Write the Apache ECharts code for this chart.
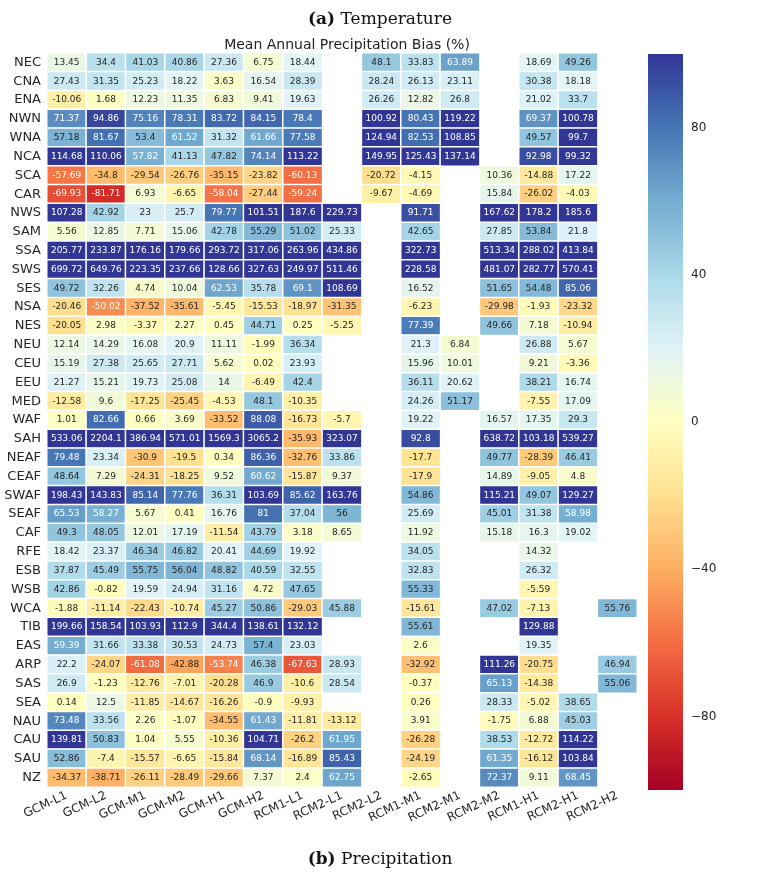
<!DOCTYPE html>
<html>
<head>
<meta charset="utf-8">
<script src="https://cdn.jsdelivr.net/npm/echarts@6/dist/echarts.min.js"></script>
<style>
  html, body { margin: 0; padding: 0; background: #ffffff; }
  #chart { width: 760px; height: 875px; }
</style>
</head>
<body>
<div id="chart"></div>
<script>
// Scenario columns (x axis)
const scenarios = ['GCM-L1', 'GCM-L2', 'GCM-M1', 'GCM-M2', 'GCM-H1', 'GCM-H2',
  'RCM1-L1', 'RCM2-L1', 'RCM2-L2', 'RCM1-M1', 'RCM2-M1', 'RCM2-M2',
  'RCM1-H1', 'RCM2-H1', 'RCM2-H2'];

// Region rows (y axis, top to bottom)
const regions = ['NEC', 'CNA', 'ENA', 'NWN', 'WNA', 'NCA', 'SCA', 'CAR', 'NWS', 'SAM',
  'SSA', 'SWS', 'SES', 'NSA', 'NES', 'NEU', 'CEU', 'EEU', 'MED', 'WAF', 'SAH', 'NEAF',
  'CEAF', 'SWAF', 'SEAF', 'CAF', 'RFE', 'ESB', 'WSB', 'WCA', 'TIB', 'EAS', 'ARP', 'SAS',
  'SEA', 'NAU', 'CAU', 'SAU', 'NZ'];

// Mean annual precipitation bias (%) per region, one value per scenario (null = not available)
const NEC  = [13.45, 34.4, 41.03, 40.86, 27.36, 6.75, 18.44, null, 48.1, 33.83, 63.89, null, 18.69, 49.26, null];
const CNA  = [27.43, 31.35, 25.23, 18.22, 3.63, 16.54, 28.39, null, 28.24, 26.13, 23.11, null, 30.38, 18.18, null];
const ENA  = [-10.06, 1.68, 12.23, 11.35, 6.83, 9.41, 19.63, null, 26.26, 12.82, 26.8, null, 21.02, 33.7, null];
const NWN  = [71.37, 94.86, 75.16, 78.31, 83.72, 84.15, 78.4, null, 100.92, 80.43, 119.22, null, 69.37, 100.78, null];
const WNA  = [57.18, 81.67, 53.4, 61.52, 31.32, 61.66, 77.58, null, 124.94, 82.53, 108.85, null, 49.57, 99.7, null];
const NCA  = [114.68, 110.06, 57.82, 41.13, 47.82, 74.14, 113.22, null, 149.95, 125.43, 137.14, null, 92.98, 99.32, null];
const SCA  = [-57.69, -34.8, -29.54, -26.76, -35.15, -23.82, -60.13, null, -20.72, -4.15, null, 10.36, -14.88, 17.22, null];
const CAR  = [-69.93, -81.71, 6.93, -6.65, -58.04, -27.44, -59.24, null, -9.67, -4.69, null, 15.84, -26.02, -4.03, null];
const NWS  = [107.28, 42.92, 23, 25.7, 79.77, 101.51, 187.6, 229.73, null, 91.71, null, 167.62, 178.2, 185.6, null];
const SAM  = [5.56, 12.85, 7.71, 15.06, 42.78, 55.29, 51.02, 25.33, null, 42.65, null, 27.85, 53.84, 21.8, null];
const SSA  = [205.77, 233.87, 176.16, 179.66, 293.72, 317.06, 263.96, 434.86, null, 322.73, null, 513.34, 288.02, 413.84, null];
const SWS  = [699.72, 649.76, 223.35, 237.66, 128.66, 327.63, 249.97, 511.46, null, 228.58, null, 481.07, 282.77, 570.41, null];
const SES  = [49.72, 32.26, 4.74, 10.04, 62.53, 35.78, 69.1, 108.69, null, 16.52, null, 51.65, 54.48, 85.06, null];
const NSA  = [-20.46, -50.02, -37.52, -35.61, -5.45, -15.53, -18.97, -31.35, null, -6.23, null, -29.98, -1.93, -23.32, null];
const NES  = [-20.05, 2.98, -3.37, 2.27, 0.45, 44.71, 0.25, -5.25, null, 77.39, null, 49.66, 7.18, -10.94, null];
const NEU  = [12.14, 14.29, 16.08, 20.9, 11.11, -1.99, 36.34, null, null, 21.3, 6.84, null, 26.88, 5.67, null];
const CEU  = [15.19, 27.38, 25.65, 27.71, 5.62, 0.02, 23.93, null, null, 15.96, 10.01, null, 9.21, -3.36, null];
const EEU  = [21.27, 15.21, 19.73, 25.08, 14, -6.49, 42.4, null, null, 36.11, 20.62, null, 38.21, 16.74, null];
const MED  = [-12.58, 9.6, -17.25, -25.45, -4.53, 48.1, -10.35, null, null, 24.26, 51.17, null, -7.55, 17.09, null];
const WAF  = [1.01, 82.66, 0.66, 3.69, -33.52, 88.08, -16.73, -5.7, null, 19.22, null, 16.57, 17.35, 29.3, null];
const SAH  = [533.06, 2204.1, 386.94, 571.01, 1569.3, 3065.2, -35.93, 323.07, null, 92.8, null, 638.72, 103.18, 539.27, null];
const NEAF = [79.48, 23.34, -30.9, -19.5, 0.34, 86.36, -32.76, 33.86, null, -17.7, null, 49.77, -28.39, 46.41, null];
const CEAF = [48.64, 7.29, -24.31, -18.25, 9.52, 60.62, -15.87, 9.37, null, -17.9, null, 14.89, -9.05, 4.8, null];
const SWAF = [198.43, 143.83, 85.14, 77.76, 36.31, 103.69, 85.62, 163.76, null, 54.86, null, 115.21, 49.07, 129.27, null];
const SEAF = [65.53, 58.27, 5.67, 0.41, 16.76, 81, 37.04, 56, null, 25.69, null, 45.01, 31.38, 58.98, null];
const CAF  = [49.3, 48.05, 12.01, 17.19, -11.54, 43.79, 3.18, 8.65, null, 11.92, null, 15.18, 16.3, 19.02, null];
const RFE  = [18.42, 23.37, 46.34, 46.82, 20.41, 44.69, 19.92, null, null, 34.05, null, null, 14.32, null, null];
const ESB  = [37.87, 45.49, 55.75, 56.04, 48.82, 40.59, 32.55, null, null, 32.83, null, null, 26.32, null, null];
const WSB  = [42.86, -0.82, 19.59, 24.94, 31.16, 4.72, 47.65, null, null, 55.33, null, null, -5.59, null, null];
const WCA  = [-1.88, -11.14, -22.43, -10.74, 45.27, 50.86, -29.03, 45.88, null, -15.61, null, 47.02, -7.13, null, 55.76];
const TIB  = [199.66, 158.54, 103.93, 112.9, 344.4, 138.61, 132.12, null, null, 55.61, null, null, 129.88, null, null];
const EAS  = [59.39, 31.66, 33.38, 30.53, 24.73, 57.4, 23.03, null, null, 2.6, null, null, 19.35, null, null];
const ARP  = [22.2, -24.07, -61.08, -42.88, -53.74, 46.38, -67.63, 28.93, null, -32.92, null, 111.26, -20.75, null, 46.94];
const SAS  = [26.9, -1.23, -12.76, -7.01, -20.28, 46.9, -10.6, 28.54, null, -0.37, null, 65.13, -14.38, null, 55.06];
const SEA  = [0.14, 12.5, -11.85, -14.67, -16.26, -0.9, -9.93, null, null, 0.26, null, 28.33, -5.02, 38.65, null];
const NAU  = [73.48, 33.56, 2.26, -1.07, -34.55, 61.43, -11.81, -13.12, null, 3.91, null, -1.75, 6.88, 45.03, null];
const CAU  = [139.81, 50.83, 1.04, 5.55, -10.36, 104.71, -26.2, 61.95, null, -26.28, null, 38.53, -12.72, 114.22, null];
const SAU  = [52.86, -7.4, -15.57, -6.65, -15.84, 68.14, -16.89, 85.43, null, -24.19, null, 61.35, -16.12, 103.84, null];
const NZ   = [-34.37, -38.71, -26.11, -28.49, -29.66, 7.37, 2.4, 62.75, null, -2.65, null, 72.37, 9.11, 68.45, null];

const biasRows = [NEC, CNA, ENA, NWN, WNA, NCA, SCA, CAR, NWS, SAM, SSA, SWS, SES, NSA, NES,
  NEU, CEU, EEU, MED, WAF, SAH, NEAF, CEAF, SWAF, SEAF, CAF, RFE, ESB, WSB, WCA, TIB, EAS,
  ARP, SAS, SEA, NAU, CAU, SAU, NZ];

// Colour scale limits and colour bar ticks
const scaleMin = -100;
const scaleMax = 100;
const colorbarTicks = [-80, -40, 0, 40, 80];

// Diverging red-yellow-blue palette, low to high
const palette = ['#a50026', '#d73027', '#f46d43', '#fdae61', '#fee090', '#ffffbf',
  '#e0f3f8', '#abd9e9', '#74add1', '#4575b4', '#313695'];

function hexToRgb(h) {
  return [parseInt(h.slice(1, 3), 16), parseInt(h.slice(3, 5), 16), parseInt(h.slice(5, 7), 16)];
}
function colorAt(v) {
  const t = Math.max(0, Math.min(1, (v - scaleMin) / (scaleMax - scaleMin)));
  const p = t * (palette.length - 1);
  const i = Math.min(palette.length - 2, Math.floor(p));
  const f = p - i;
  const a = hexToRgb(palette[i]), b = hexToRgb(palette[i + 1]);
  return a.map((c, k) => c + (b[k] - c) * f);
}
// Light text on dark cells, dark text on light cells
function textColorFor(v) {
  const lin = colorAt(v).map(c => {
    c /= 255;
    return c <= 0.03928 ? c / 12.92 : Math.pow((c + 0.055) / 1.055, 2.4);
  });
  const lum = 0.2126 * lin[0] + 0.7152 * lin[1] + 0.0722 * lin[2];
  return lum > 0.408 ? '#262626' : '#ffffff';
}

const cells = [];
biasRows.forEach((row, yi) => {
  row.forEach((v, xi) => {
    if (v === null) return;
    const clamped = Math.max(scaleMin, Math.min(scaleMax, v));
    cells.push({ value: [xi, yi, v, clamped], label: { color: textColorFor(v) } });
  });
});

const fmtMinus = v => (v < 0 ? '\u2212' + Math.abs(v) : String(v));

const chart = echarts.init(document.getElementById('chart'), null, { renderer: 'canvas' });

chart.setOption({
  backgroundColor: '#ffffff',
  animation: false,
  title: [
    {
      text: '{b|(a)} Temperature',
      left: 'center', top: 6,
      textStyle: {
        fontFamily: 'DejaVu Serif', fontSize: 17, fontWeight: 'normal', color: '#111',
        rich: { b: { fontFamily: 'DejaVu Serif', fontSize: 17, fontWeight: 'bold', color: '#111' } }
      }
    },
    {
      text: 'Mean Annual Precipitation Bias (%)',
      left: 342, top: 33, textAlign: 'center',
      textStyle: { fontFamily: 'DejaVu Sans', fontSize: 14, fontWeight: 'normal', color: '#222' }
    },
    {
      text: '{b|(b)} Precipitation',
      left: 'center', top: 846,
      textStyle: {
        fontFamily: 'DejaVu Serif', fontSize: 17, fontWeight: 'normal', color: '#111',
        rich: { b: { fontFamily: 'DejaVu Serif', fontSize: 17, fontWeight: 'bold', color: '#111' } }
      }
    }
  ],
  grid: [
    { left: 47, top: 53, width: 590, height: 734 },
    { left: 648, top: 54, width: 35, height: 736 }
  ],
  xAxis: [
    {
      type: 'category', gridIndex: 0, data: scenarios, position: 'bottom',
      axisLine: { show: false }, axisTick: { show: false }, splitLine: { show: false },
      axisLabel: {
        interval: 0, rotate: 25, margin: 8, fontFamily: 'DejaVu Sans', fontSize: 12, color: '#262626'
      }
    },
    { type: 'value', gridIndex: 1, min: 0, max: 1, show: false }
  ],
  yAxis: [
    {
      type: 'category', gridIndex: 0, data: regions, inverse: true,
      axisLine: { show: false }, axisTick: { show: false }, splitLine: { show: false },
      axisLabel: { margin: 6, fontFamily: 'DejaVu Sans', fontSize: 13, color: '#262626' }
    },
    {
      type: 'value', gridIndex: 1, min: scaleMin, max: scaleMax, position: 'right',
      splitLine: { show: false }, axisLine: { show: false },
      axisTick: { show: true, length: 4, customValues: colorbarTicks, lineStyle: { color: '#262626' } },
      axisLabel: {
        customValues: colorbarTicks, margin: 8, fontFamily: 'DejaVu Sans', fontSize: 12,
        color: '#262626', formatter: v => fmtMinus(v)
      }
    }
  ],
  visualMap: {
    show: false, type: 'continuous', seriesIndex: 0, dimension: 3,
    min: scaleMin, max: scaleMax, inRange: { color: palette }
  },
  series: [
    {
      type: 'heatmap', xAxisIndex: 0, yAxisIndex: 0, data: cells,
      encode: { x: 0, y: 1 },
      itemStyle: { borderColor: '#ffffff', borderWidth: 1.5 },
      label: {
        show: true, fontFamily: 'DejaVu Sans', fontSize: 9,
        formatter: p => String(p.value[2])
      },
      emphasis: { disabled: true }
    },
    {
      // colour bar drawn as a gradient rectangle over the scale range
      type: 'custom', xAxisIndex: 1, yAxisIndex: 1, silent: true,
      data: [[0, scaleMin, 1, scaleMax]],
      renderItem: (params, api) => {
        const p0 = api.coord([api.value(0), api.value(3)]);
        const p1 = api.coord([api.value(2), api.value(1)]);
        const stops = palette.slice().reverse().map((c, i) => ({ offset: i / (palette.length - 1), color: c }));
        return {
          type: 'rect',
          shape: { x: p0[0], y: p0[1], width: p1[0] - p0[0], height: p1[1] - p0[1] },
          style: { fill: new echarts.graphic.LinearGradient(0, 0, 0, 1, stops) }
        };
      }
    }
  ]
});
</script>
</body>
</html>
